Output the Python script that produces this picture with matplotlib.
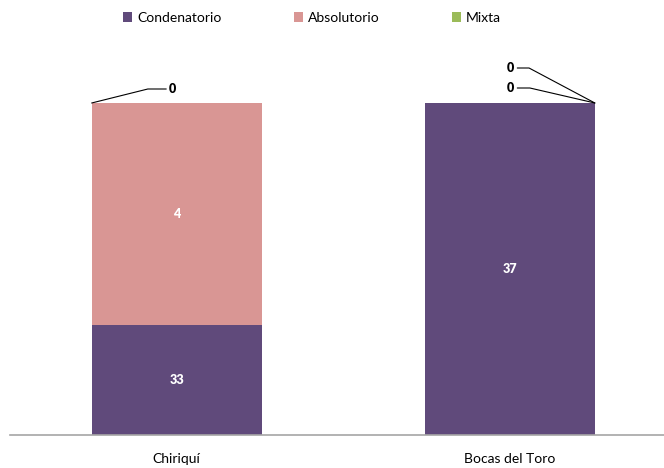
import numpy as np
import matplotlib.pyplot as plt

plt.rcParams['font.family'] = ['Lato', 'DejaVu Sans']

# Data
provincias = ['Chiriquí', 'Bocas del Toro']
series = ['Condenatorio', 'Absolutorio', 'Mixta']
colores = ['#604A7B', '#D99694', '#9BBB59']

# bar heights as share of each bar (%)
condenatorio_pct = [33.1, 100.0]
absolutorio_pct = [66.9, 0.0]
mixta_pct = [0.0, 0.0]

# labels shown on the bars (counts)
condenatorio_n = [33, 37]
absolutorio_n = [4, 0]
mixta_n = [0, 0]

alturas = [condenatorio_pct, absolutorio_pct, mixta_pct]
etiquetas = [condenatorio_n, absolutorio_n, mixta_n]

# offsets (pixels) for the zero labels with leader lines: (serie, barra) -> (dx, dy, angle)
ceros = {(2, 0): (81, 14, 14), (1, 1): (-84, 15, -13), (2, 1): (-84, 35, -28)}

fig = plt.figure(figsize=(6.64, 4.68), dpi=100)
ax = fig.add_axes([10 / 664, 33 / 468, 654 / 664, 332 / 468])

x = np.arange(len(provincias))
w = 0.51
base = np.zeros(len(provincias))
for i, (nombre, h, lab) in enumerate(zip(series, alturas, etiquetas)):
    bars = ax.bar(x, h, w, bottom=base, color=colores[i], label=nombre)
    for j, b in enumerate(bars):
        if h[j] > 0:
            ax.text(b.get_x() + b.get_width() / 2, base[j] + h[j] / 2, str(lab[j]),
                    ha='center', va='center', color='white', fontsize=9, fontweight='heavy')
        elif (i, j) in ceros:
            dx, dy, ang = ceros[(i, j)]
            corner_x = b.get_x() if dx > 0 else b.get_x() + b.get_width()
            ax.annotate(str(lab[j]), xy=(corner_x, base[j] + h[j]), xytext=(dx, dy),
                        textcoords='offset pixels', ha='center', va='center',
                        fontsize=9, fontweight='heavy', annotation_clip=False,
                        arrowprops=dict(arrowstyle='-', lw=0.8, color='black',
                                        connectionstyle=f'angle,angleA=0,angleB={ang},rad=0',
                                        shrinkA=0, shrinkB=0))
    base += np.array(h)

ax.set_xlim(-0.5, 1 + 154 / 333)
ax.set_ylim(0, 100)
ax.set_xticks(x)
ax.set_xticklabels(provincias, fontsize=10)
ax.tick_params(axis='x', length=0, pad=13)
ax.set_yticks([])
for s in ['top', 'right', 'left']:
    ax.spines[s].set_visible(False)
ax.spines['bottom'].set_color('#A6A6A6')
ax.spines['bottom'].set_linewidth(1.2)

fig.legend(loc='center', bbox_to_anchor=(312 / 664, 1 - 18 / 468), ncol=3, frameon=False,
           fontsize=10, handlelength=0.65, handleheight=0.65, handletextpad=0.35,
           columnspacing=5.2)

fig.savefig('out.png', dpi=100)
